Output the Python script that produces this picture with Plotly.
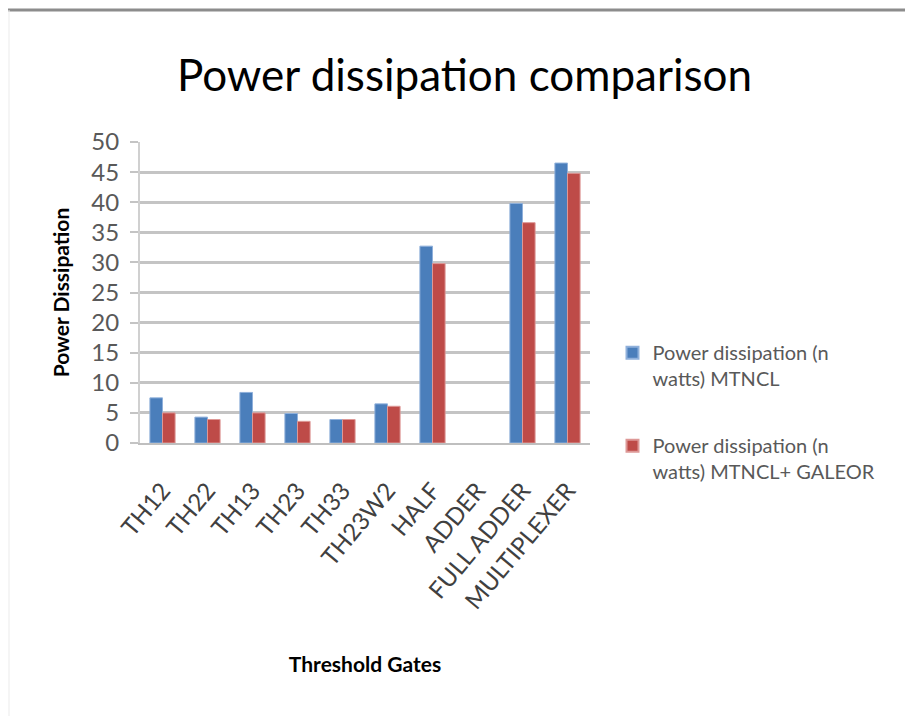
import plotly.graph_objects as go

categories = ["TH12", "TH22", "TH13", "TH23", "TH33", "TH23W2", "HALF", "ADDER", "FULL ADDER", "MULTIPLEXER"]
mtncl = [7.5, 4.3, 8.4, 4.9, 3.9, 6.5, 32.7, None, 39.8, 46.5]
mtncl_galeor = [5.0, 3.9, 5.0, 3.6, 3.9, 6.1, 29.8, None, 36.6, 44.8]
series_names = ["Power dissipation (n<br>watts) MTNCL", "Power dissipation (n<br>watts) MTNCL+ GALEOR"]
y_ticks = [0, 5, 10, 15, 20, 25, 30, 35, 40, 45, 50]

FONT = "Lato, sans-serif"

fig = go.Figure()
fig.add_trace(go.Bar(x=categories, y=mtncl, name=series_names[0], legendgroup="a",
                     marker=dict(color="#4A7EBB", line=dict(color="#8FB0DB", width=1))))
fig.add_trace(go.Bar(x=categories, y=mtncl_galeor, name=series_names[1], legendgroup="b",
                     marker=dict(color="#BE4B48", line=dict(color="#DD9896", width=1))))

fig.update_layout(
    width=913, height=716,
    margin=dict(l=132, r=331, t=134, b=281, autoexpand=False),
    paper_bgcolor="white", plot_bgcolor="white",
    barmode="group", bargap=0.44, bargroupgap=0,
    font=dict(family=FONT, color="#595959"),
    title=dict(text="Power dissipation comparison", x=0.5, xanchor="center",
               xref="container", y=0.906, yanchor="middle",
               font=dict(family=FONT, size=44, color="#000000")),
    showlegend=True,
    legend=dict(x=1.05, y=0.365, xanchor="left", yanchor="top", valign="top",
                font=dict(family=FONT, size=20, color="#595959"),
                tracegroupgap=38, itemsizing="constant"),
    xaxis=dict(tickangle=-50, tickfont=dict(family=FONT, size=24, color="#404040"),
               ticklabelstandoff=22,
               showline=True, linecolor="#BFBFBF", linewidth=2, showgrid=False,
               title=dict(text="<b>Threshold Gates</b>", standoff=44,
                          font=dict(family=FONT, size=21, color="#000000"))),
    yaxis=dict(range=[0, 50], tickvals=y_ticks, tickfont=dict(family=FONT, size=24, color="#595959"),
               showgrid=True, gridcolor="#C4C4C4", gridwidth=2.5,
               showline=True, linecolor="#D0D0D0", linewidth=2,
               ticks="outside", ticklen=8, tickcolor="#C4C4C4", tickwidth=2,
               ticklabelstandoff=6,
               zeroline=False,
               title=dict(text="<b>Power Dissipation</b>", standoff=16,
                          font=dict(family=FONT, size=21, color="#000000"))),
    shapes=[
        dict(type="line", xref="paper", yref="paper", x0=-0.2933, x1=1.74, y0=1.4385, y1=1.4385,
             line=dict(color="#8C8C8C", width=3)),
        dict(type="line", xref="paper", yref="paper", x0=-0.2911, x1=-0.2911, y0=1.4385, y1=-0.95,
             line=dict(color="#EBEBEB", width=1)),
    ],
)

fig.write_html("out.html")
